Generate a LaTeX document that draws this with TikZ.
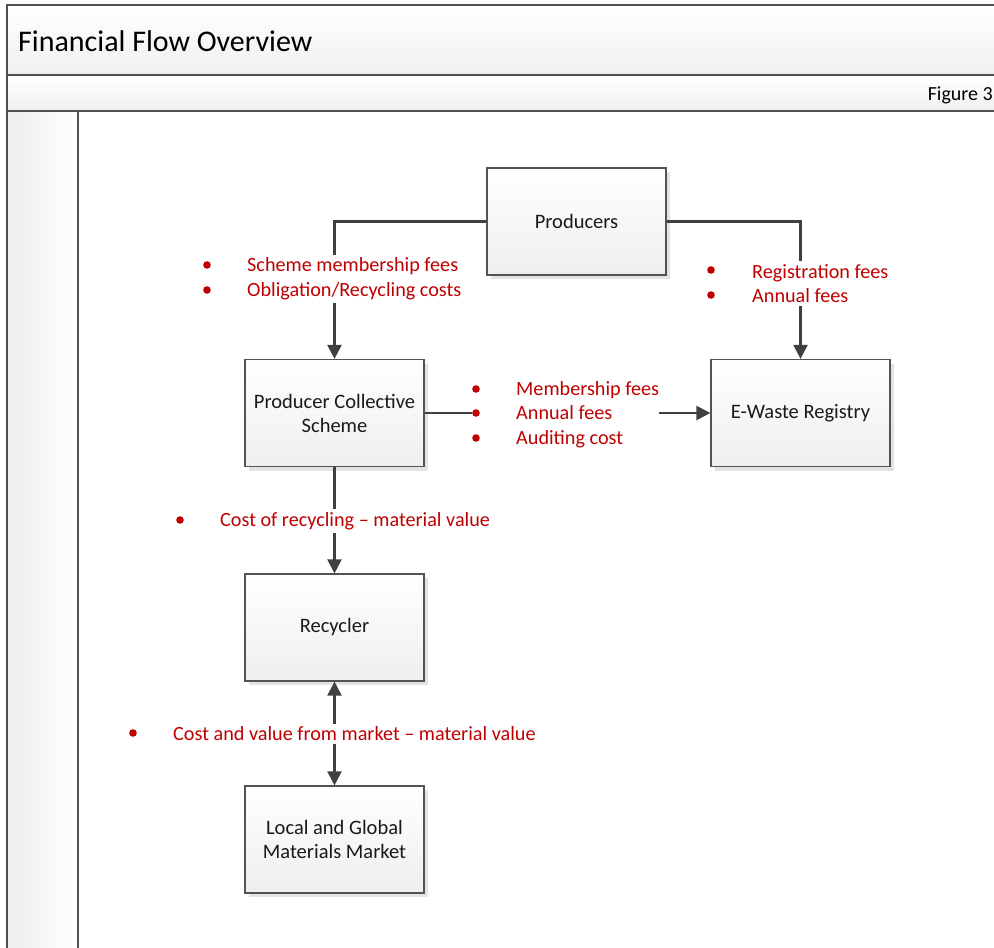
\documentclass[tikz,border=0pt]{standalone}
\usepackage{fontspec}
\setmainfont{Carlito}
\usetikzlibrary{arrows.meta,shadows}
\definecolor{lred}{HTML}{C00000}
\definecolor{ln}{HTML}{404040}
\definecolor{frm}{HTML}{505050}
\begin{document}
\begin{tikzpicture}[x=1pt,y=-1pt,
 box/.style={draw=ln!90, line width=1.2pt, top color=white, bottom color=gray!13,
   minimum width=179pt, minimum height=107pt, align=center,
   font=\fontsize{20.5}{24}\selectfont, text=black!90, inner sep=0pt,
   drop shadow={shadow xshift=4pt, shadow yshift=-4pt, fill=gray!22, opacity=1}},
 conn/.style={draw=ln, line width=2.2pt, -{Triangle[length=14pt,width=14pt]}},
 conn2/.style={draw=ln, line width=2.2pt, {Triangle[length=14pt,width=14pt]}-{Triangle[length=14pt,width=14pt]}},
 lbl/.style={fill=white, anchor=west, inner xsep=0pt, inner ysep=3pt, align=left,
   text=lred, font=\fontsize{20.2}{24.5}\selectfont},
 dot/.style={fill=lred},
 frame/.style={draw=frm, line width=1.8pt}
]
\useasboundingbox (0,0) rectangle (994,948);
\clip (0,0) rectangle (994,948);
% frame
\path[frame, top color=white, bottom color=gray!12] (7,5) rectangle (1010,75);
\path[frame, top color=white, bottom color=gray!12] (7,75) rectangle (1010,111);
\path[frame, left color=gray!14, right color=white] (7,111) rectangle (78,970);
\node[anchor=west, font=\fontsize{30}{34}\selectfont, inner sep=0pt] (title) at (18,41) {Financial Flow Overview};
\node[anchor=east, font=\fontsize{20}{24}\selectfont, inner sep=0pt] (fig) at (993,95) {Figure 3};

% boxes
\node[box] (prod) at (576.5,221.5) {Producers};
\node[box] (pcs) at (334.5,413) {Producer Collective\\Scheme};
\node[box] (reg) at (800.5,413) {E-Waste Registry};
\node[box] (rec) at (334.5,627.5) {Recycler};
\node[box] (mkt) at (334.5,839.5) {Local and Global\\Materials Market};

% connectors
\draw[conn] (prod.west) -| (pcs.north);
\draw[conn] (prod.east) -| (reg.north);
\draw[conn] (pcs.east) -- (reg.west);
\draw[conn] (pcs.south) -- (rec.north);
\draw[conn2] (rec.south) -- (mkt.north);

% labels
\node[lbl] (l1) at (203,278.5) {\hspace*{44pt}Scheme membership fees\\\hspace*{44pt}Obligation/Recycling costs};
\node[lbl] (l2) at (707,283.5) {\hspace*{45pt}Registration fees\\\hspace*{45pt}Annual fees};
\node[lbl] (l3) at (472,414.5) {\hspace*{44pt}Membership fees\\\hspace*{44pt}Annual fees\\\hspace*{44pt}Auditing cost};
\node[lbl] (l4) at (176,521) {\hspace*{44pt}Cost of recycling -- material value};
\node[lbl] (l5) at (129,734) {\hspace*{44pt}Cost and value from market -- material value};

% bullets
\foreach \p in {(207,265),(207,290),(711,270),(711,295),(476,389),(476,413),(476,438),(180,520),(133,733)}
  \fill[dot] \p circle[radius=3.8pt];
\end{tikzpicture}
\end{document}
